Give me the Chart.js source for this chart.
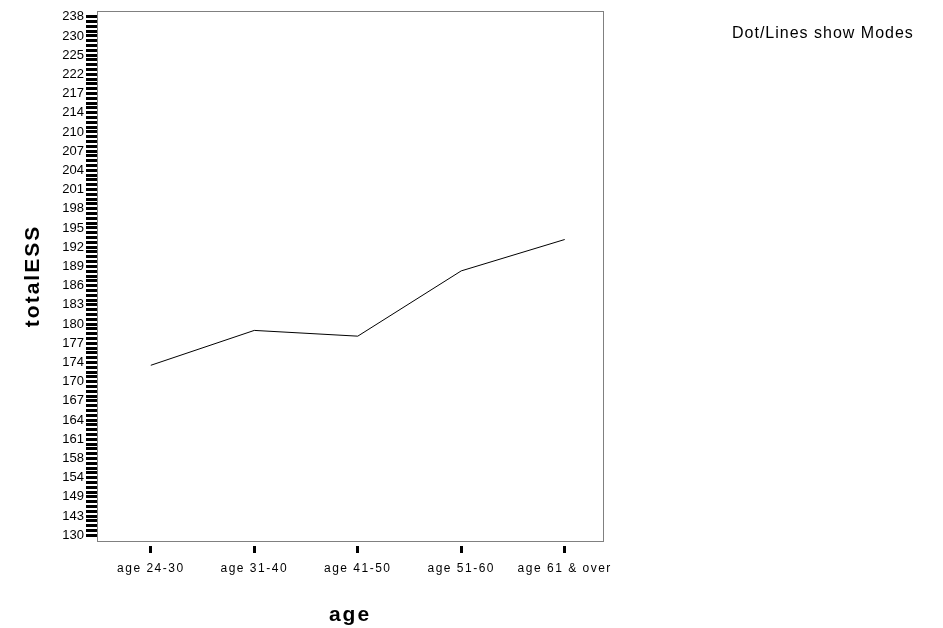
<!DOCTYPE html>
<html>
<head>
<meta charset="utf-8">
<script src="https://cdn.jsdelivr.net/npm/chart.js@4.4.1/dist/chart.umd.min.js"></script>
<style>
html, body { margin: 0; padding: 0; background: #fff; }
</style>
</head>
<body>
<canvas id="ChartA" width="943" height="628"></canvas>
<script>
// data
const ageGroups = ['age 24-30', 'age 31-40', 'age 41-50', 'age 51-60', 'age 61 & over'];
const modeESS = [173.4, 179, 178.1, 188.3, 193.2];
// y axis is a category axis of observed totalESS values, only every 4th one is labelled
const yTickLabels = [130, 143, 149, 154, 158, 161, 164, 167, 170, 174, 177, 180, 183, 186,
  189, 192, 195, 198, 201, 204, 207, 210, 214, 217, 222, 225, 230, 238];
const perLabel = 4;
const nCats = (yTickLabels.length - 1) * perLabel + 1;
const fontFam = '"Liberation Sans", Arial, sans-serif';

// value -> position on the category axis
function toPos(v) {
  for (let i = 0; i < yTickLabels.length - 1; i++) {
    const a = yTickLabels[i], b = yTickLabels[i + 1];
    if (v >= a && v <= b) return perLabel * (i + (v - a) / (b - a));
  }
  return v < yTickLabels[0] ? 0 : nCats - 1;
}

// the old SPSS export draws text loosely spaced
function spaced(scale, method, px) {
  const orig = scale[method];
  scale[method] = function () {
    const c = this.ctx, prev = c.letterSpacing;
    c.letterSpacing = px;
    orig.apply(this, arguments);
    c.letterSpacing = prev;
  };
}

const points = modeESS.map((v, i) => ({ x: i, y: toPos(v) }));

const frame = {
  id: 'frame',
  afterDraw(chart) {
    const ctx = chart.ctx, a = chart.chartArea;
    ctx.save();
    ctx.strokeStyle = '#808080';
    ctx.lineWidth = 1;
    ctx.strokeRect(a.left + 0.5, a.top + 0.5, a.right - a.left, a.bottom - a.top);
    ctx.fillStyle = '#000';
    ctx.font = '16px ' + fontFam;
    ctx.letterSpacing = '1px';
    ctx.textBaseline = 'middle';
    ctx.fillText('Dot/Lines show Modes', 732, 34);
    ctx.restore();
  }
};

const ctx = document.getElementById('ChartA').getContext('2d');
const myChart = new Chart(ctx, {
  type: 'line',
  data: {
    datasets: [{
      data: points,
      borderColor: '#000',
      borderWidth: 1,
      pointRadius: 0,
      tension: 0,
      fill: false
    }]
  },
  options: {
    responsive: false,
    animation: false,
    layout: { padding: { top: 11, right: 340, bottom: 0, left: 0 } },
    plugins: { legend: { display: false }, tooltip: { enabled: false } },
    scales: {
      x: {
        type: 'linear',
        min: -0.52,
        max: 4.37,
        afterBuildTicks: (s) => { s.ticks = ageGroups.map((c, i) => ({ value: i })); },
        afterFit: (s) => {
          s.height = 87;
          if (!s._spaced) {
            s._spaced = true;
            spaced(s, 'drawLabels', '1.5px');
            spaced(s, 'drawTitle', '2px');
          }
        },
        border: { display: false },
        grid: {
          drawOnChartArea: false,
          tickLength: 12,
          tickWidth: 3,
          tickColor: '#000',
          tickBorderDash: [0, 5, 7, 100]
        },
        ticks: {
          autoSkip: false,
          maxRotation: 0,
          padding: 8,
          color: '#000',
          font: { family: fontFam, size: 12 },
          callback: (v) => ageGroups[v]
        },
        title: {
          display: true,
          text: 'age',
          color: '#000',
          font: { family: fontFam, size: 21, weight: 'bold' },
          padding: { top: 0, bottom: 0 }
        }
      },
      y: {
        type: 'linear',
        min: -1.2,
        max: nCats - 1 + 1.2,
        afterBuildTicks: (s) => {
          const t = [];
          for (let i = 0; i < nCats; i++) t.push({ value: i });
          s.ticks = t;
        },
        afterFit: (s) => {
          s.width = 97;
          if (!s._spaced) {
            s._spaced = true;
            spaced(s, 'drawTitle', '2px');
          }
        },
        border: { display: false },
        grid: {
          drawOnChartArea: false,
          tickLength: 11,
          tickWidth: 3,
          tickColor: '#000'
        },
        ticks: {
          autoSkip: false,
          padding: 2,
          color: '#000',
          font: { family: fontFam, size: 13 },
          callback: (v) => (v % perLabel === 0 ? String(yTickLabels[v / perLabel]) : '')
        },
        title: {
          display: true,
          text: 'totalESS',
          color: '#000',
          font: { family: fontFam, size: 21, weight: 'bold' },
          padding: { top: 21, bottom: 0 }
        }
      }
    }
  },
  plugins: [frame]
});
</script>
</body>
</html>
